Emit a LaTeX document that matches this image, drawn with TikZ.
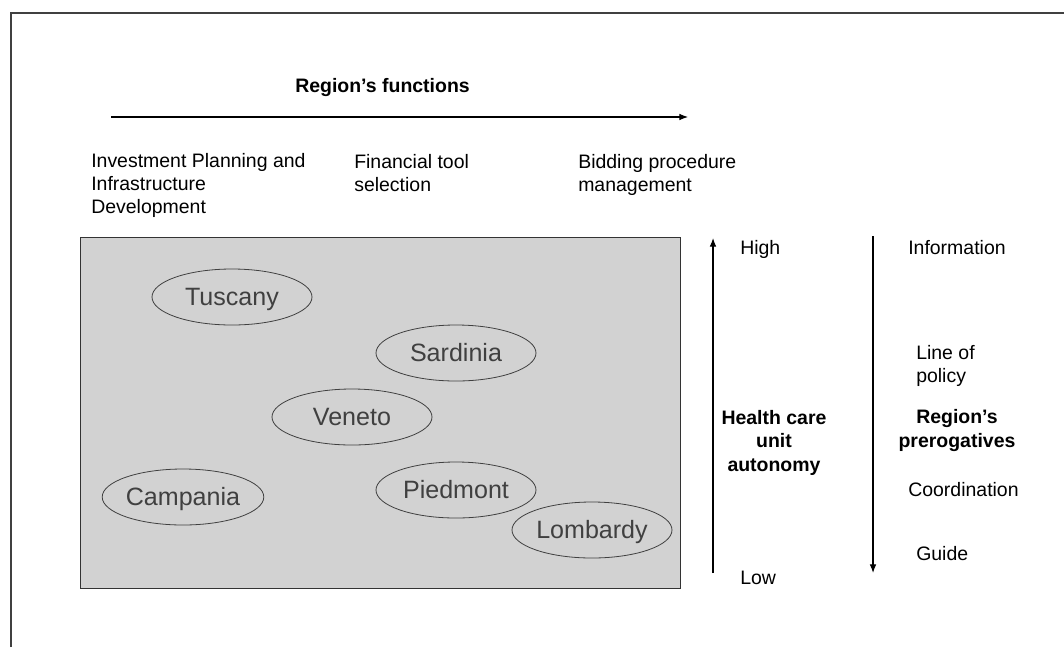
\documentclass[tikz,border=0pt]{standalone}
\usepackage{fontspec}
\setmainfont{Liberation Sans}
\usepackage{tikz}
\usetikzlibrary{positioning, arrows.meta, shapes.geometric}
\definecolor{mapgray}{HTML}{D2D2D2}
\definecolor{inkgray}{HTML}{404040}

\begin{document}
\begin{tikzpicture}[x=0.75pt, y=-0.75pt,
  font=\fontsize{14.6}{17}\selectfont, >={Latex[length=6.5pt, width=5pt]},
  lbl/.style={anchor=base west, inner sep=0pt, align=left},
  hd/.style={anchor=base, inner sep=0pt, align=center, font=\fontsize{14.6}{17.6}\selectfont\bfseries},
  reg/.style={draw=inkgray, ellipse, line width=0.6pt, minimum width=120pt, minimum height=42pt,
    inner sep=0pt, text=inkgray, text height=13.4pt, text depth=0pt,
    font=\fontsize{18.8}{20}\selectfont},
  ax/.style={->, line width=0.85pt}]
  \useasboundingbox (0,0) rectangle (1064,647);
  % frame
  \draw[line width=1.1pt, black!75] (11,647) -- (11,13) -- (1064,13);

  % region's functions (multi-line labels sit on their last baseline)
  \node[lbl, font=\fontsize{14.6}{17}\selectfont\bfseries] (fn) at (295,92) {Region’s functions};
  \coordinate (fs) at (111,117);
  \coordinate (fe) at (688,117);
  \draw[ax] (fs) -- (fe);
  \node[lbl] (inv) at (91,213) {Investment Planning and\\Infrastructure\\Development};
  \node[lbl] (fin) at (354,191) {Financial tool\\selection};
  \node[lbl] (bid) at (578,191) {Bidding procedure\\management};

  % regions
  \node[draw=black!80, line width=0.9pt, fill=mapgray, anchor=north west, minimum width=450pt,
        minimum height=263.25pt, inner sep=0pt] (map) at (80,237) {};
  \node[reg] (tus) at (232,297) {Tuscany};
  \node[reg] (sar) at (456,353) {Sardinia};
  \node[reg] (ven) at (352,417) {Veneto};
  \node[reg] (cam) at (183,497) {Campania};
  \node[reg] (pie) at (456,490) {Piedmont};
  \node[reg] (lom) at (592,530) {Lombardy};

  % autonomy axis
  \coordinate (alo) at (713,573);
  \coordinate (ahi) at (713,238);
  \draw[ax] (alo) -- (ahi);
  \node[lbl] (high) at (740,254) {High};
  \node[lbl] (low) at (740,584) {Low};
  \node[hd] (auto) at (774,471) {Health care\\unit\\autonomy};

  % prerogatives axis
  \coordinate (ptop) at (873,236);
  \coordinate (pbot) at (873,573);
  \draw[ax] (ptop) -- (pbot);
  \node[lbl] (info) at (908,254) {Information};
  \node[lbl] (pol) at (916,382) {Line of\\policy};
  \node[hd] (prer) at (957,447) {Region’s\\prerogatives};
  \node[lbl] (coord) at (908,496) {Coordination};
  \node[lbl] (guide) at (916,560) {Guide};
\end{tikzpicture}
\end{document}
